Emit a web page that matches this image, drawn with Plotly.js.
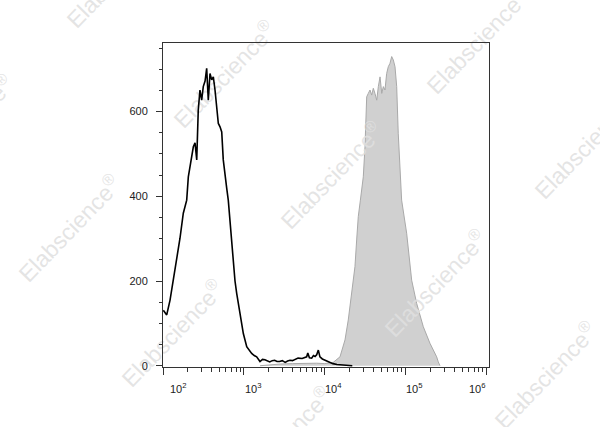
<!DOCTYPE html>
<html><head><meta charset="utf-8">
<script src="https://cdn.plot.ly/plotly-3.0.1.min.js"></script>
<style>
html,body{margin:0;padding:0;background:#fff}
#wrap{position:relative;width:600px;height:427px}
#base,#top{position:absolute;left:0;top:0;width:600px;height:427px}
</style></head><body>
<div id="wrap"><div id="base"></div><div id="top"></div></div>
<script>
// Black histogram (control): log10 of fluorescence intensity and event counts
const blackLog = [2.004,2.046,2.087,2.127,2.169,2.21,2.251,2.293,2.313,2.35,
  2.375,2.396,2.417,2.436,2.457,2.478,2.498,2.52,2.54,2.56,
  2.581,2.602,2.622,2.643,2.664,2.684,2.705,2.726,2.745,2.766,
  2.787,2.807,2.828,2.849,2.869,2.89,2.911,2.932,2.952,2.973,
  2.993,3.035,3.065,3.096,3.128,3.158,3.199,3.23,3.26,3.29,
  3.32,3.35,3.38,3.41,3.44,3.475,3.51,3.54,3.57,3.6,
  3.63,3.67,3.72,3.776,3.79,3.81,3.838,3.86,3.88,3.9,
  3.92,3.94,3.97,4.0,4.06,4.1,4.15,4.2,4.25,4.3,4.34];
const blackCount = [131,120,155,202,250,301,360,391,446,490,
  517,526,486,604,651,627,659,672,702,627,
  690,675,682,651,610,572,564,552,486,446,
  420,391,344,290,234,200,171,145,124,100,
  76,45,36,29,24,21,10,15,14,11,
  9,12,13,10,10,12,8,11,13,12,
  15,18,17,21,30,19,18,24,22,26,
  37,21,16,13,7,5,3,2,1,1,0];
// Gray filled histogram (stained sample)
const grayLog = [3.2,3.3,3.45,3.6,3.75,3.9,4.0,4.105,4.188,4.25,
  4.29,4.33,4.373,4.394,4.414,4.44,4.476,4.497,4.51,4.518,
  4.538,4.559,4.58,4.6,4.62,4.642,4.662,4.683,4.704,4.724,
  4.744,4.765,4.785,4.806,4.827,4.847,4.868,4.889,4.908,4.929,
  4.95,5.012,5.053,5.074,5.136,5.218,5.3,5.383,5.403,5.424];
const grayCount = [0,2,4,5,6,6,5,8,21,61,
  108,163,234,297,352,391,446,517,588,635,
  643,651,639,655,643,627,659,682,643,659,
  651,690,706,714,730,722,706,659,549,470,
  391,313,234,202,147,92,53,21,9,0];
const yTickVals = [0,200,400,600];
const yTickText = ['0','200','400','600'];
const xTickExp = [2,3,4,5,6];
const xTickText = ['10<sup>2</sup>','10<sup>3</sup>','10<sup>4</sup>','10<sup>5</sup>','10<sup>6</sup>'];
const watermarkText = 'Elabscience<sup>®</sup>';

const toLin = a => a.map(v => Math.pow(10, v));
const W = 600, H = 427, M = {l:163, r:111, t:43, b:60, pad:0};
const pw = W - M.l - M.r, ph = H - M.t - M.b;
const font = 'Liberation Sans, Arial, sans-serif';
const xRange = [2.0, 6.03], yRange = [-3, 762];

// minor ticks on the log axis
const minorX = [];
for (let e = 2; e < 6; e++) for (let k = 2; k <= 9; k++) minorX.push(k * Math.pow(10, e));

// watermark centers (pixels)
const wmPos = [[-38,128],[69,228],[172,333],[280,440],[117,-26],[224,74],[331,175],[435,283],[545,375],[477,40],[585,145]];
const wmAnn = wmPos.map(p => ({
  xref:'paper', yref:'paper', x:(p[0]-M.l)/pw, y:(H-M.b-p[1])/ph,
  xanchor:'center', yanchor:'middle', text: watermarkText, showarrow:false,
  textangle:-46, font:{family:font, size:23, color:'rgba(224,224,224,0.85)'}
}));

const hiddenX = {type:'log', range:xRange, showline:false, showgrid:false, zeroline:false, showticklabels:false, ticks:''};
const hiddenY = {range:yRange, showline:false, showgrid:false, zeroline:false, showticklabels:false, ticks:''};

Plotly.newPlot('base', [{
  x: toLin(grayLog), y: grayCount, type:'scatter', mode:'lines',
  fill:'tozeroy', fillcolor:'#d0d0d0', line:{color:'#a9a9a9', width:1}, hoverinfo:'skip'
}], {
  width:W, height:H, margin:M, showlegend:false,
  paper_bgcolor:'#fff', plot_bgcolor:'#fff',
  xaxis: hiddenX, yaxis: hiddenY, annotations: wmAnn
}, {staticPlot:true});

const xShift = [15, 10, 9, 9, -9];
const xAnn = xTickExp.map((e, i) => ({
  xref:'x', yref:'paper', x:e, y:0, yanchor:'top', xanchor:'center',
  yshift:-12, xshift:xShift[i], text:xTickText[i], showarrow:false,
  font:{family:font, size:11, color:'#222'}
}));

Plotly.newPlot('top', [{
  x: toLin(blackLog), y: blackCount, type:'scatter', mode:'lines',
  line:{color:'#000', width:1.6}, hoverinfo:'skip'
}], {
  width:W, height:H, margin:M, showlegend:false,
  paper_bgcolor:'rgba(0,0,0,0)', plot_bgcolor:'rgba(0,0,0,0)',
  xaxis:{type:'log', range:xRange, showgrid:false, zeroline:false,
    showline:true, mirror:true, linecolor:'#333', linewidth:1,
    ticks:'outside', ticklen:7, tickwidth:1, tickcolor:'#333',
    tickmode:'array', tickvals: toLin(xTickExp), showticklabels:false,
    minor:{tickmode:'array', tickvals:minorX, ticks:'outside', ticklen:4, tickwidth:1, tickcolor:'#333'}},
  yaxis:{range:yRange, showgrid:false, zeroline:false,
    showline:true, mirror:true, linecolor:'#333', linewidth:1,
    ticks:'outside', ticklen:6, tickwidth:1, tickcolor:'#333',
    tickmode:'array', tickvals:yTickVals, ticktext:yTickText,
    tickfont:{family:font, size:11, color:'#222'}, ticklabelstandoff:6,
    minor:{dtick:50, tick0:0, ticks:'outside', ticklen:3.5, tickwidth:1, tickcolor:'#333'}},
  annotations: xAnn
}, {staticPlot:true});
</script>
</body></html>
